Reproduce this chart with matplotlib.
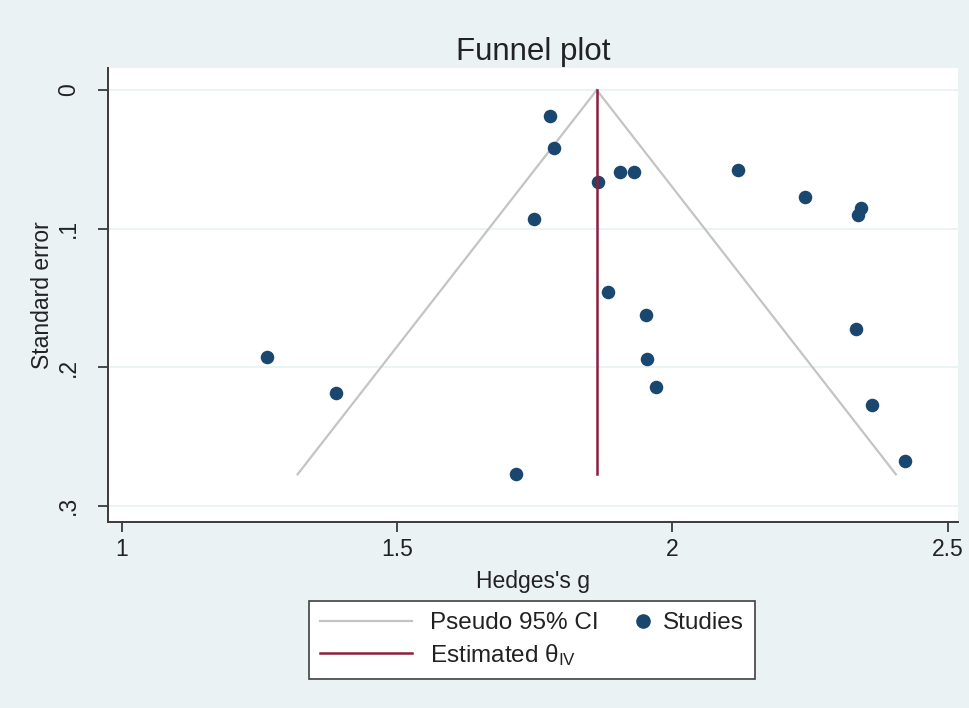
import numpy as np
import matplotlib
matplotlib.use("Agg")
import matplotlib.pyplot as plt
from matplotlib.lines import Line2D
from matplotlib.legend_handler import HandlerBase

# ---- data ----
hedges_g = [1.777, 1.785, 1.865, 1.904, 1.931, 2.120, 2.241, 2.343, 2.338, 1.748,
            1.883, 1.953, 2.333, 1.263, 1.954, 1.388, 1.970, 2.362, 1.716, 2.422]
std_err = [0.0188, 0.0416, 0.0666, 0.0589, 0.0589, 0.0577, 0.0774, 0.0854, 0.0902, 0.0933,
           0.1460, 0.1621, 0.1727, 0.1929, 0.1943, 0.2186, 0.2145, 0.2271, 0.2773, 0.2677]
theta_iv = 1.8626
x_ticks = [1, 1.5, 2, 2.5]
x_ticklabels = ["1", "1.5", "2", "2.5"]
y_ticks = [0, 0.1, 0.2, 0.3]
y_ticklabels = ["0", ".1", ".2", ".3"]

BG = "#eaf2f3"
NAVY = "#1a476f"
MAROON = "#8b1f3f"
GRAY = "#c4c4c4"
AX = "#3a3a3a"

plt.rcParams['font.family'] = ['Liberation Sans', 'DejaVu Sans']
plt.rcParams['mathtext.fontset'] = 'custom'
plt.rcParams['mathtext.rm'] = 'Liberation Sans'
plt.rcParams['mathtext.it'] = 'Liberation Sans'

fig = plt.figure(figsize=(9.69, 7.08), dpi=100, facecolor=BG)
ax = fig.add_axes([108/969, 1-521.7/708, (958-108)/969, (521.7-68)/708])
ax.set_facecolor("white")

# pseudo 95% CI funnel
se_max = max(std_err)
se_line = np.array([0.0, se_max])
ax.plot(theta_iv - 1.96*se_line, se_line, color=GRAY, lw=1.6, zorder=2)
ax.plot(theta_iv + 1.96*se_line, se_line, color=GRAY, lw=1.6, zorder=2)
ax.scatter(hedges_g, std_err, s=95, color=NAVY, zorder=3, linewidths=0)
ax.plot([theta_iv, theta_iv], [0, se_max], color=MAROON, lw=1.8, zorder=4)

ax.set_xlim(0.9746, 2.519)
ax.set_ylim(0.3115, -0.0159)

ax.set_xticks(x_ticks)
ax.set_xticklabels(x_ticklabels)
ax.set_yticks(y_ticks)
ax.set_yticklabels(y_ticklabels, rotation=90, va="center")
ax.yaxis.grid(True, color=BG, lw=1.3)
ax.set_axisbelow(True)

for s in ["top", "right"]:
    ax.spines[s].set_visible(False)
for s in ["left", "bottom"]:
    ax.spines[s].set_color(AX)
    ax.spines[s].set_linewidth(1.4)
ax.tick_params(axis="both", colors=AX, labelcolor="#222222", length=7, width=1.3,
               labelsize=16.5)
ax.tick_params(axis="y", pad=13)
ax.tick_params(axis="x", pad=5)

ax.set_xlabel("Hedges's g", fontsize=16.5, color="#222222", labelpad=6)
ax.set_ylabel("Standard error", fontsize=16.5, color="#222222", labelpad=2)
ax.set_title("Funnel plot", fontsize=22.5, color="#222222", pad=6)


class RightMarker(HandlerBase):
    def create_artists(self, legend, orig_handle, xdescent, ydescent, width,
                       height, fontsize, trans):
        m = Line2D([width - xdescent - 0.1*fontsize], [height/2 - ydescent],
                   marker="o", markersize=9.5, color=NAVY, linestyle="none",
                   transform=trans)
        return [m]


h_ci = Line2D([], [], color=GRAY, lw=1.6)
h_est = Line2D([], [], color=MAROON, lw=1.8)
h_st = Line2D([], [], marker="o", color=NAVY, linestyle="none")
leg = fig.legend([h_ci, h_est, h_st],
                 ["Pseudo 95% CI", r"Estimated $\theta_{\mathrm{IV}}$", "Studies"],
                 ncol=2, loc="center", bbox_to_anchor=(532/969, 1-640/708),
                 fontsize=17.5, handlelength=3.8, handletextpad=0.75,
                 columnspacing=-1.9, labelspacing=0.3, borderpad=0.45,
                 fancybox=False, framealpha=1, facecolor="white",
                 edgecolor="#404040", handler_map={h_st: RightMarker()})
leg.get_frame().set_linewidth(1.2)
for t in leg.get_texts():
    t.set_color("#222222")

fig.savefig("out.png", dpi=100, facecolor=BG)
